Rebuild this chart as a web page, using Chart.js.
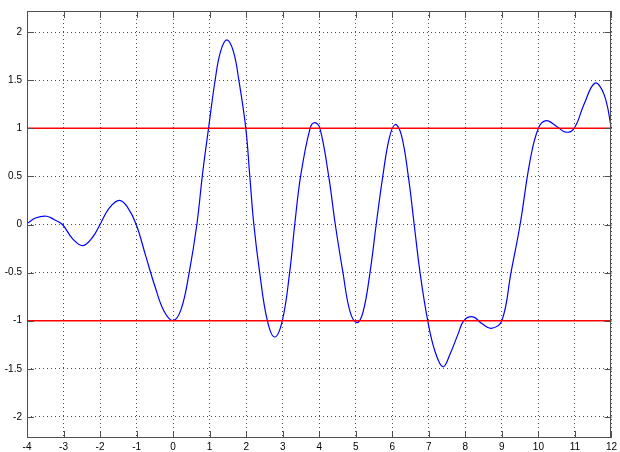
<!DOCTYPE html>
<html>
<head>
<meta charset="utf-8">
<script src="https://cdn.jsdelivr.net/npm/chart.js@4.4.1/dist/chart.umd.min.js"></script>
<style>
html, body { margin: 0; padding: 0; background: #fff; }
#wrap { width: 620px; height: 452px; }
</style>
</head>
<body>
<div id="wrap"><canvas id="myChart"></canvas></div>
<script>
// values
var curveX = [-4.0, -3.75, -3.46, -3.25, -3.03, -2.75, -2.47, -2.2, -2.0, -1.75, -1.47, -1.25, -1.01, -0.74, -0.5, -0.25, 0.0,
  0.22, 0.44, 0.65, 0.81, 0.97, 1.15, 1.3, 1.47, 1.65, 1.8, 1.99, 2.1, 2.21, 2.37, 2.58, 2.78,
  2.99, 3.19, 3.33, 3.49, 3.75, 3.88, 4.02, 4.26, 4.44, 4.65, 4.84, 5.03, 5.2, 5.39, 5.56, 5.74,
  5.92, 6.08, 6.25, 6.44, 6.6, 6.76, 6.97, 7.17, 7.39, 7.6, 7.8, 7.96, 8.21, 8.45, 8.71, 9.0, 9.25,
  9.5, 9.77, 10.0, 10.21, 10.5, 10.75, 10.98, 11.25, 11.55, 11.8, 12.0];
var curveY = [0.01, 0.07, 0.086, 0.05, 0.0, -0.15, -0.22, -0.13, 0.0, 0.17, 0.25, 0.18, 0.0, -0.34, -0.64, -0.9, -1.0,
  -0.88, -0.5, 0.0, 0.54, 1.0, 1.5, 1.8, 1.92, 1.8, 1.5, 1.0, 0.5, 0.0, -0.5, -1.0, -1.17,
  -1.0, -0.5, 0.0, 0.5, 1.0, 1.06, 1.0, 0.5, 0.0, -0.5, -0.9, -1.02, -0.91, -0.5, 0.0, 0.5,
  0.9, 1.04, 0.93, 0.5, 0.0, -0.5, -1.0, -1.32, -1.48, -1.33, -1.14, -1.0, -0.96, -1.03, -1.08, -1.0, -0.5,
  0.0, 0.66, 1.0, 1.08, 1.02, 0.96, 1.0, 1.25, 1.47, 1.35, 1.0];
var limitLevels = [1, -1];
var xTicks = [-4, -3, -2, -1, 0, 1, 2, 3, 4, 5, 6, 7, 8, 9, 10, 11, 12];
var yTicks = [-2, -1.5, -1, -0.5, 0, 0.5, 1, 1.5, 2];
var xRange = [-4, 12];
var yRange = [-2.22, 2.22];

// box round the axes with inward tick marks
var boxPlugin = {
  id: 'box',
  afterDatasetsDraw: function(chart) {
    var ctx = chart.ctx, a = chart.chartArea;
    var xs = chart.scales.x, ys = chart.scales.y;
    ctx.save();
    ctx.strokeStyle = '#505050';
    ctx.lineWidth = 1;
    ctx.strokeRect(Math.round(a.left) + 0.5, Math.round(a.top) + 0.5,
      Math.round(a.right - a.left) - 1, Math.round(a.bottom - a.top) - 1);
    ctx.beginPath();
    xTicks.forEach(function(v) {
      var px = Math.round(xs.getPixelForValue(v)) + 0.5;
      ctx.moveTo(px, a.bottom); ctx.lineTo(px, a.bottom - 7);
      ctx.moveTo(px, a.top); ctx.lineTo(px, a.top + 7);
    });
    yTicks.forEach(function(v) {
      var py = Math.round(ys.getPixelForValue(v)) + 0.5;
      ctx.moveTo(a.left, py); ctx.lineTo(a.left + 7, py);
      ctx.moveTo(a.right, py); ctx.lineTo(a.right - 7, py);
    });
    ctx.stroke();
    ctx.restore();
  }
};

function levelLine(level) {
  return {
    data: xRange.map(function(x) { return {x: x, y: level}; }),
    borderColor: '#ff0000',
    borderWidth: 1.5,
    pointRadius: 0,
    tension: 0
  };
}

document.addEventListener('DOMContentLoaded', function() {
  var myChart = document.getElementById('myChart');
  var datasets = limitLevels.map(levelLine);
  datasets.push({
    data: curveX.map(function(x, i) { return {x: x, y: curveY[i]}; }),
    borderColor: '#0000ff',
    borderWidth: 1.2,
    pointRadius: 0,
    tension: 0.4
  });

  var tickFont = {family: '"Liberation Sans", Arial, sans-serif', size: 10};
  var gridStyle = {color: 'rgba(0,0,0,0.7)', lineWidth: 1, drawTicks: false};

  new Chart(myChart, {
    type: 'line',
    data: {datasets: datasets},
    plugins: [boxPlugin],
    options: {
      responsive: true,
      maintainAspectRatio: false,
      animation: false,
      layout: {padding: {top: 7, right: 6, left: 0, bottom: 0}},
      plugins: {legend: {display: false}, tooltip: {enabled: false}},
      scales: {
        x: {
          type: 'linear',
          min: xRange[0],
          max: xRange[1],
          afterBuildTicks: function(s) { s.ticks = xTicks.map(function(v) { return {value: v}; }); },
          afterFit: function(s) { s.height = 14; },
          grid: gridStyle,
          border: {display: false, dash: [1, 3]},
          ticks: {font: tickFont, color: '#000', padding: 3, maxRotation: 0,
            callback: function(v) { return String(v); }}
        },
        y: {
          type: 'linear',
          min: yRange[0],
          max: yRange[1],
          afterBuildTicks: function(s) { s.ticks = yTicks.map(function(v) { return {value: v}; }); },
          afterFit: function(s) { s.width = 27; },
          grid: gridStyle,
          border: {display: false, dash: [1, 3]},
          ticks: {font: tickFont, color: '#000', padding: 5,
            callback: function(v) { return String(v); }}
        }
      }
    }
  });
});
</script>
</body>
</html>
